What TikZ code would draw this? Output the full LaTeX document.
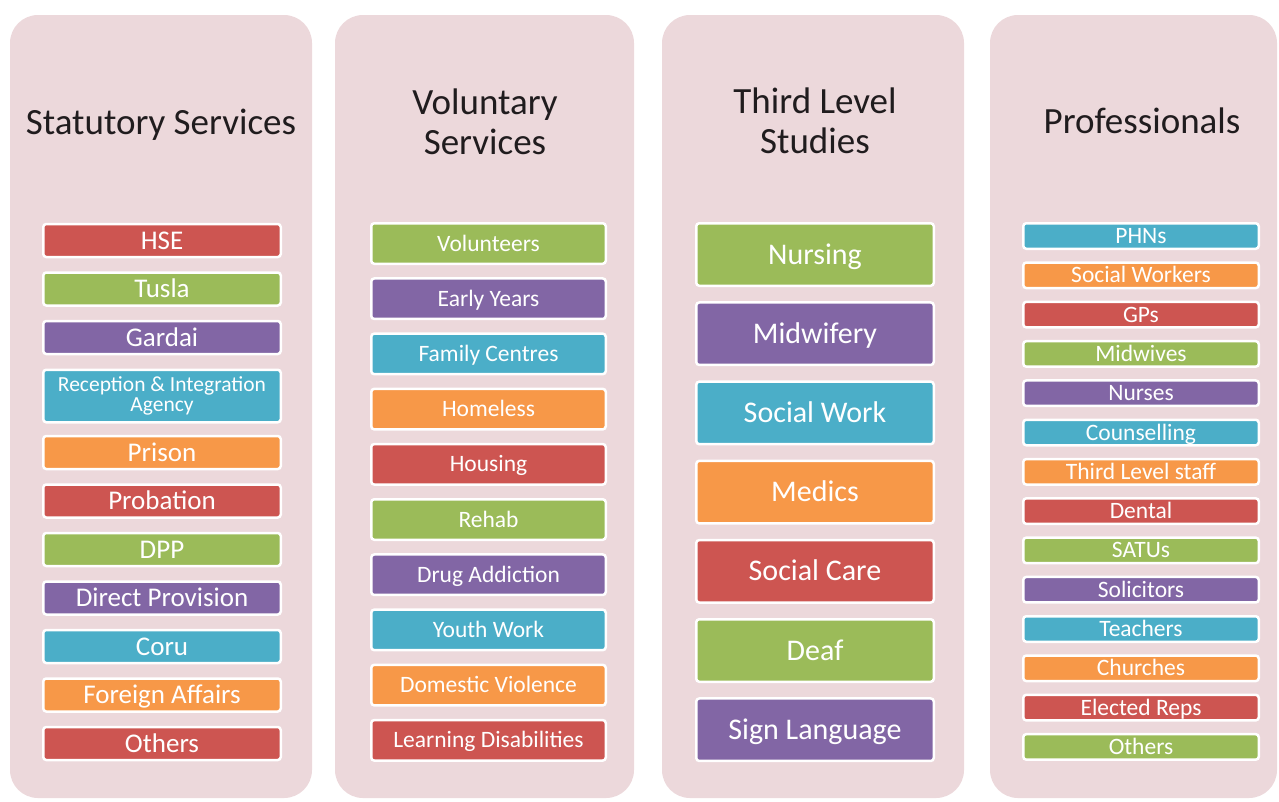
\documentclass[tikz,border=0pt]{standalone}
\usepackage{fontspec}
\setmainfont{Carlito}
\definecolor{panelpink}{RGB}{236,216,219}
\definecolor{titlegray}{RGB}{32,28,30}
\definecolor{tilered}{RGB}{205,85,81}
\definecolor{tilegreen}{RGB}{155,187,89}
\definecolor{tilepurple}{RGB}{130,102,165}
\definecolor{tileaqua}{RGB}{75,174,200}
\definecolor{tileorange}{RGB}{247,152,72}

\begin{document}
\begin{tikzpicture}[x=1pt,y=-1pt,
  panel/.style={fill=panelpink, rounded corners=28pt},
  heading/.style={font=\fontsize{37}{40}\selectfont, text=titlegray, align=center},
  tile/.style={draw=white, line width=2.5pt, rounded corners=3pt, text=white,
    text depth=0pt, inner sep=0pt},
  statbox/.style={tile, minimum width=237.5pt, minimum height=33pt,
    text height=17.4pt, font=\fontsize{27}{30}\selectfont},
  volbox/.style={tile, minimum width=234.5pt, minimum height=40.5pt,
    text height=15.1pt, font=\fontsize{23.5}{26}\selectfont},
  studbox/.style={tile, minimum width=237.5pt, minimum height=62.5pt,
    text height=19.3pt, font=\fontsize{30}{33}\selectfont},
  profbox/.style={tile, minimum width=235.5pt, minimum height=25.5pt,
    text height=15.1pt, font=\fontsize{23.5}{26}\selectfont}]
\useasboundingbox (0,0) rectangle (1279,801);
% background panels
\fill[panel] (10,15) rectangle (312,798);
\fill[panel] (335,15) rectangle (634,798);
\fill[panel] (662,15) rectangle (964,798);
\fill[panel] (990,15) rectangle (1277,798);
% headings
\node[heading, anchor=base] (statutory) at (161,134) {Statutory Services};
\node[heading, anchor=base] (voluntary) at (485,154) {Voluntary\\Services};
\node[heading, anchor=base] (studies) at (815,153) {Third Level\\Studies};
\node[heading, anchor=base] (professionals) at (1142,133) {Professionals};
% statutory services
\node[statbox, fill=tilered] (hse) at (162,240.5) {HSE};
\node[statbox, fill=tilegreen] (tusla) at (162,289) {Tusla};
\node[statbox, fill=tilepurple] (gardai) at (162,337.5) {Gardai};
\node[tile, fill=tileaqua, minimum width=237.5pt, minimum height=52.5pt, text depth=,
  align=center, font=\fontsize{21.5}{19.5}\selectfont] (ria) at (162,396) {Reception \& Integration\\Agency};
\node[statbox, fill=tileorange] (prison) at (162,452.5) {Prison};
\node[statbox, fill=tilered] (probation) at (162,501) {Probation};
\node[statbox, fill=tilegreen] (dpp) at (162,549.5) {DPP};
\node[statbox, fill=tilepurple] (directprov) at (162,598) {Direct Provision};
\node[statbox, fill=tileaqua] (coru) at (162,646.5) {Coru};
\node[statbox, fill=tileorange] (foreign) at (162,695) {Foreign Affairs};
\node[statbox, fill=tilered] (statothers) at (162,743.5) {Others};
% voluntary services
\node[volbox, fill=tilegreen] (volunteers) at (488.5,243.5) {Volunteers};
\node[volbox, fill=tilepurple] (earlyyears) at (488.5,298.7) {Early Years};
\node[volbox, fill=tileaqua] (family) at (488.5,353.9) {Family Centres};
\node[volbox, fill=tileorange] (homeless) at (488.5,409.1) {Homeless};
\node[volbox, fill=tilered] (housing) at (488.5,464.3) {Housing};
\node[volbox, fill=tilegreen] (rehab) at (488.5,519.5) {Rehab};
\node[volbox, fill=tilepurple] (drug) at (488.5,574.7) {Drug Addiction};
\node[volbox, fill=tileaqua] (youth) at (488.5,629.9) {Youth Work};
\node[volbox, fill=tileorange] (domestic) at (488.5,685.1) {Domestic Violence};
\node[volbox, fill=tilered] (learning) at (488.5,740.3) {Learning Disabilities};
% third level studies
\node[studbox, fill=tilegreen] (nursing) at (815,254.5) {Nursing};
\node[studbox, fill=tilepurple] (midwifery) at (815,333.7) {Midwifery};
\node[studbox, fill=tileaqua] (socialwork) at (815,412.9) {Social Work};
\node[studbox, fill=tileorange] (medics) at (815,492.1) {Medics};
\node[studbox, fill=tilered] (socialcare) at (815,571.3) {Social Care};
\node[studbox, fill=tilegreen] (deaf) at (815,650.5) {Deaf};
\node[studbox, fill=tilepurple] (signlang) at (815,729.7) {Sign Language};
% professionals
\node[profbox, fill=tileaqua] (phns) at (1141,236) {PHNs};
\node[profbox, fill=tileorange] (socialworkers) at (1141,275.3) {Social Workers};
\node[profbox, fill=tilered] (gps) at (1141,314.6) {GPs};
\node[profbox, fill=tilegreen] (midwives) at (1141,353.9) {Midwives};
\node[profbox, fill=tilepurple] (nurses) at (1141,393.2) {Nurses};
\node[profbox, fill=tileaqua] (counselling) at (1141,432.5) {Counselling};
\node[profbox, fill=tileorange] (thirdstaff) at (1141,471.8) {Third Level staff};
\node[profbox, fill=tilered] (dental) at (1141,511.1) {Dental};
\node[profbox, fill=tilegreen] (satus) at (1141,550.4) {SATUs};
\node[profbox, fill=tilepurple] (solicitors) at (1141,589.7) {Solicitors};
\node[profbox, fill=tileaqua] (teachers) at (1141,629) {Teachers};
\node[profbox, fill=tileorange] (churches) at (1141,668.3) {Churches};
\node[profbox, fill=tilered] (electedreps) at (1141,707.6) {Elected Reps};
\node[profbox, fill=tilegreen] (profothers) at (1141,746.9) {Others};
\end{tikzpicture}
\end{document}
